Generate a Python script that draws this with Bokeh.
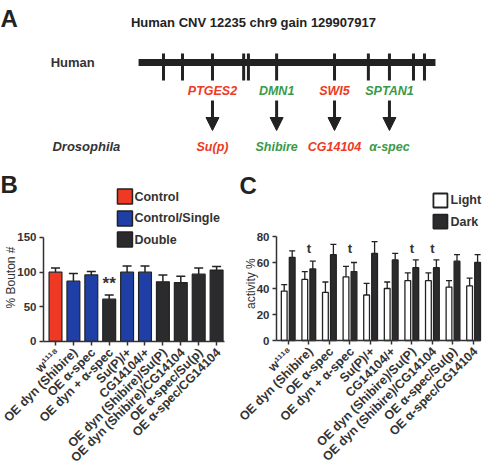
import math
from bokeh.plotting import figure
from bokeh.models import (ColumnDataSource, Whisker, FixedTicker, Range1d, Label,
                          Arrow, NormalHead, TeeHead)
from bokeh.layouts import column, row
from bokeh.core.properties import value
from bokeh.embed import file_html
from bokeh.resources import INLINE

FONT = "Liberation Sans"
RED = "#ee3a24"
GREEN = "#3a9a48"
BLUE = "#1f3fa6"
DARK = "#2b2b2e"
INK = "#333333"

# ---------------- Panel A data (schematic, positions along CNV, 0-100) ----------------
a_title = "Human CNV 12235 chr9 gain 129907917"
chrom_span = [0.0, 100.0]
gene_ticks = [8.4, 14.8, 24.9, 35.4, 37.0, 46.5, 66.0, 77.4, 84.5, 92.6, 96.3]
human_genes = ["PTGES2", "DMN1", "SWI5", "SPTAN1"]
fly_genes = ["Su(p)", "Shibire", "CG14104", "α-spec"]
gene_pos = [24.9, 46.5, 66.0, 84.5]
gene_colors = [RED, GREEN, RED, GREEN]

# ---------------- Panel B data ----------------
geno = ["w¹¹¹⁸", "OE dyn (Shibire)", "OE α-spec", "OE dyn + α-spec", "Su(P)/+",
        "CG14104/+", "OE dyn (Shibire)/Su(P)", "OE dyn (Shibire)/CG14104",
        "OE α-spec/Su(p)", "OE α-spec/CG14104"]
b_mean = [100, 87, 96, 61, 100, 100, 86, 85, 97, 103]
b_err = [6, 11, 5, 6, 9, 9, 10, 9, 9, 5]
b_group = ["Control", "Control/Single", "Control/Single", "Double", "Control/Single",
           "Control/Single", "Double", "Double", "Double", "Double"]
b_legend = ["Control", "Control/Single", "Double"]
b_group_colors = {"Control": RED, "Control/Single": BLUE, "Double": DARK}
b_ticks = [0, 50, 100, 150]
b_star_index = 3

# ---------------- Panel C data ----------------
c_light = [38, 47, 37, 49, 35, 40, 46, 46, 41, 42]
c_light_err = [5, 6, 8, 8, 9, 5, 6, 6, 5, 6]
c_dark = [64, 55, 66, 53, 67, 62, 56, 56, 61, 60]
c_dark_err = [5, 6, 8, 7, 9, 5, 6, 6, 5, 6]
c_t_index = [1, 3, 6, 7]
c_ticks = [0, 20, 40, 60, 80]
c_legend = ["Light", "Dark"]

# =============== Panel A ===============
pa = figure(width=489, height=170, output_backend="svg", toolbar_location=None,
            x_range=Range1d(-46.5, 118.2), y_range=Range1d(170, 0),
            min_border=0, outline_line_color=None)
pa.axis.visible = False
pa.grid.visible = False
pa.text(x=[38.7], y=[22], text=[a_title], text_font=value(FONT), text_font_size="13px",
        text_font_style="bold", text_align="center", text_baseline="middle", text_color="#222")
pa.text(x=[-29.6, -29.0], y=[62, 146], text=["Human", "Drosophila"], text_font=value(FONT),
        text_font_size="13px", text_font_style=["bold", "bold italic"],
        text_baseline="middle", text_color=INK)
pa.segment(x0=[chrom_span[0]], y0=[62], x1=[chrom_span[1]], y1=[62], line_width=7,
           line_color="#222")
pa.segment(x0=gene_ticks, y0=[53] * len(gene_ticks), x1=gene_ticks, y1=[80] * len(gene_ticks),
           line_width=3, line_color="#222")
pa.text(x=gene_pos, y=[90] * 4, text=human_genes, text_font=value(FONT), text_font_size="12.5px",
        text_font_style="bold italic", text_align="center", text_baseline="middle",
        text_color=gene_colors)
pa.text(x=gene_pos, y=[146] * 4, text=fly_genes, text_font=value(FONT), text_font_size="12.5px",
        text_font_style="bold italic", text_align="center", text_baseline="middle",
        text_color=gene_colors)
arr_src = ColumnDataSource(dict(x0=gene_pos, y0=[100] * 4, x1=gene_pos, y1=[130] * 4))
pa.add_layout(Arrow(end=NormalHead(size=13, fill_color="#222", line_color="#222", line_width=1),
                    x_start="x0", y_start="y0", x_end="x1", y_end="y1", source=arr_src,
                    line_width=3, line_color="#222"))
pa.add_layout(Label(x=-46.5, y=18, text="A", text_font=FONT, text_font_size="24px",
                    text_font_style="bold", text_baseline="middle", text_color="#222"))


def style_axes(p, x_at, y_at):
    # axes drawn inside the (full-figure) frame at fixed data locations
    p.yaxis.fixed_location = x_at
    p.xaxis.fixed_location = y_at
    for ax in p.axis:
        ax.axis_line_width = 1.5
        ax.axis_line_color = INK
        ax.major_tick_line_color = INK
        ax.major_tick_line_width = 1.5
        ax.major_tick_in = 0
        ax.major_tick_out = 4
        ax.minor_tick_line_color = None
        ax.major_label_text_font = FONT
        ax.major_label_text_font_size = "11.5px"
        ax.major_label_text_font_style = "bold"
        ax.major_label_text_color = INK
    p.yaxis.major_label_standoff = 3
    p.grid.visible = False


def genotype_labels(p, positions, labels):
    # category names under the axis, rotated 45 degrees and ending at each tick
    p.xaxis.major_label_overrides = {i: "" for i in positions}
    for xpos, lab in zip(positions, labels):
        p.add_layout(Label(x=xpos, y=0, text=lab, angle=math.pi / 4, x_offset=2, y_offset=-9,
                           text_align="right", text_baseline="middle", text_font=FONT,
                           text_font_size="12.5px", text_font_style="bold", text_color=INK))


xs = list(range(len(geno)))

# =============== Panel B ===============
pb = figure(width=230, height=295, output_backend="svg", toolbar_location=None,
            x_range=Range1d(-3.073, 9.777), y_range=Range1d(-178.9, 246.6),
            min_border=0, outline_line_color=None)
src_b = ColumnDataSource(dict(x=xs, top=b_mean, up=[m + e for m, e in zip(b_mean, b_err)],
                              color=[b_group_colors[g] for g in b_group]))
pb.add_layout(Whisker(base="x", lower="top", upper="up", source=src_b, dimension="height",
                      lower_head=None, upper_head=TeeHead(size=9, line_width=1.5, line_color="#222"),
                      line_width=1.5, line_color="#222", level="glyph"))
pb.vbar(x="x", top="top", bottom=0, width=0.72, source=src_b, fill_color="color",
        line_color="#222", line_width=1.2)
pb.text(x=[b_star_index], y=[84], text=["**"], text_font=value(FONT), text_font_size="17px",
        text_font_style="bold", text_align="center", text_baseline="middle", text_color=INK)
leg_y = [209, 177.4, 147]
pb.rect(x=[3.88] * 3, y=leg_y, width=15, height=15, width_units="screen", height_units="screen",
        fill_color=[b_group_colors[g] for g in b_legend], line_color="#222", line_width=1.5)
pb.text(x=[4.41] * 3, y=leg_y, text=b_legend, text_font=value(FONT), text_font_size="12.5px",
        text_font_style="bold", text_baseline="middle", text_color=INK)
pb.yaxis.ticker = FixedTicker(ticks=b_ticks)
pb.yaxis.bounds = (0, 150)
pb.xaxis.ticker = FixedTicker(ticks=xs)
pb.xaxis.bounds = (-0.67, 9.44)
style_axes(pb, -0.67, 0)
genotype_labels(pb, xs, geno)
pb.add_layout(Label(x=-2.51, y=92.3, text="% Bouton #", angle=math.pi / 2, text_align="center",
                    text_baseline="middle", text_font=FONT, text_font_size="12px",
                    text_color=INK))
pb.add_layout(Label(x=-3.07, y=226, text="B", text_font=FONT, text_font_size="24px",
                    text_font_style="bold", text_baseline="middle", text_color="#222"))

# =============== Panel C ===============
pc = figure(width=259, height=295, output_backend="svg", toolbar_location=None,
            x_range=Range1d(-2.801, 9.772), y_range=Range1d(-96.15, 130.77),
            min_border=0, outline_line_color=None)
off = 0.194
src_l = ColumnDataSource(dict(x=[i - off for i in xs], top=c_light,
                              up=[m + e for m, e in zip(c_light, c_light_err)]))
src_d = ColumnDataSource(dict(x=[i + off for i in xs], top=c_dark,
                              up=[m + e for m, e in zip(c_dark, c_dark_err)]))
for s in (src_l, src_d):
    pc.add_layout(Whisker(base="x", lower="top", upper="up", source=s, dimension="height",
                          lower_head=None,
                          upper_head=TeeHead(size=6, line_width=1.3, line_color="#222"),
                          line_width=1.3, line_color="#222", level="glyph"))
pc.vbar(x="x", top="top", bottom=0, width=0.28, source=src_l, fill_color="white",
        line_color="#222", line_width=1.3)
pc.vbar(x="x", top="top", bottom=0, width=0.28, source=src_d, fill_color=DARK,
        line_color="#222", line_width=1.3)
pc.text(x=c_t_index, y=[70.8] * len(c_t_index), text=["t"] * len(c_t_index),
        text_font=value(FONT), text_font_size="13px", text_font_style="bold",
        text_align="center", text_baseline="middle", text_color=INK)
cleg_y = [107.7, 91.5]
pc.rect(x=[7.39] * 2, y=cleg_y, width=14, height=14, width_units="screen", height_units="screen",
        fill_color=["white", DARK], line_color="#222", line_width=1.8)
pc.text(x=[7.88] * 2, y=cleg_y, text=c_legend, text_font=value(FONT), text_font_size="12.5px",
        text_font_style="bold", text_baseline="middle", text_color=INK)
pc.yaxis.ticker = FixedTicker(ticks=c_ticks)
pc.yaxis.bounds = (0, 80)
pc.xaxis.ticker = FixedTicker(ticks=xs)
pc.xaxis.bounds = (-0.568, 9.335)
style_axes(pc, -0.568, 0)
genotype_labels(pc, xs, geno)
pc.add_layout(Label(x=-1.83, y=43.8, text="activity %", angle=math.pi / 2, text_align="center",
                    text_baseline="middle", text_font=FONT, text_font_size="12px",
                    text_color=INK))
pc.add_layout(Label(x=-2.36, y=119, text="C", text_font=FONT, text_font_size="24px",
                    text_font_style="bold", text_baseline="middle", text_color="#222"))

layout = column(pa, row(pb, pc, spacing=0), spacing=0)
open("out.html", "w").write(file_html(layout, INLINE))
